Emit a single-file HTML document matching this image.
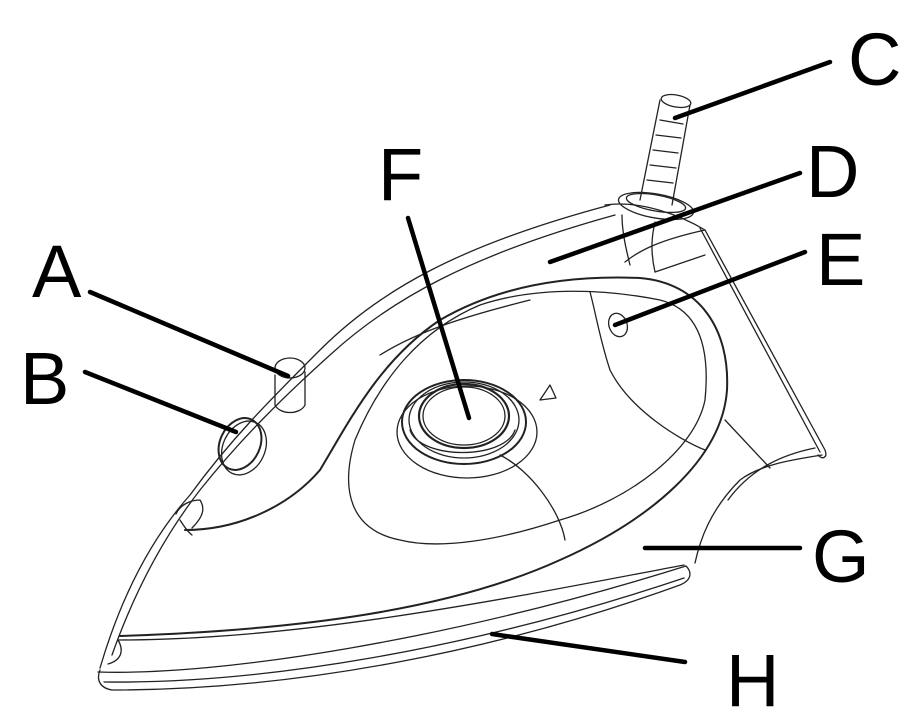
<!DOCTYPE html>
<html><head><style>
html,body{margin:0;padding:0;background:#fff;}
svg{display:block;}
text{font-family:"Liberation Sans",sans-serif;font-size:74px;fill:#000;}
</style></head><body>
<svg width="916" height="718" viewBox="0 0 916 718" xmlns="http://www.w3.org/2000/svg">
<g fill="none" stroke="#222" stroke-width="1.3" stroke-linecap="round" stroke-linejoin="round">
<path d="M100,670 C96,680 100,688 112,690 C300,690 500,650 680,585 C692,580 692,572 686,566"/>
<path d="M98,672 C220,676 450,640 686,566"/>
<path d="M104,682 C260,684 470,650 684,578"/>
<path d="M118,640 C124,650 122,660 108,664"/>
<path d="M118,640 C300,640 500,600 684,565"/>
<path d="M100,668 C120,600 150,540 190,495 C230,440 270,400 320,350 C380,290 460,245 610,205"/>
<path d="M112,655 C135,590 165,535 200,490 C240,440 280,400 330,355 C390,300 470,255 615,215"/>
<path d="M605,205 C640,200 680,215 705,230 L825,450 C828,458 822,460 818,455"/>
<path d="M700,228 L820,452"/>
<path d="M625,262 C640,250 660,240 705,230"/>
<path d="M630,265 C625,245 622,230 622,215"/>
<path d="M655,272 C650,250 652,235 655,222"/>
<path d="M655,272 L705,255"/>
<path d="M822,455 C790,460 760,465 740,480 C710,510 700,540 695,563"/>
<path d="M815,448 C780,455 750,470 728,500"/>
<path d="M725,420 L770,468"/>
<path stroke-width="2" d="M185,530 C240,530 290,505 320,470 C350,420 380,360 440,320 C500,285 570,275 640,278 C700,283 730,330 727,390 C722,460 650,520 560,560 C450,610 300,630 120,636"/>
<path d="M355,440 C380,380 420,330 480,305 C540,285 610,290 660,300 C700,310 710,350 705,400 C695,450 630,500 560,520 C500,540 440,550 400,540 C350,530 340,490 355,440"/>
<path d="M380,355 C420,330 470,315 530,300"/>
<path d="M590,292 C595,310 600,340 610,370 C630,410 680,440 705,450"/>
<path d="M500,455 C530,470 560,510 565,540"/>
<path d="M180,520 C185,528 188,532 192,535"/>
<path d="M176,514 C180,505 190,500 200,500 C205,508 204,516 192,528"/>
<path d="M275,375 L275,405 C280,415 300,415 305,405 L305,372"/>
<ellipse cx="290" cy="368" rx="15" ry="10"/>
<ellipse cx="240" cy="444" rx="20" ry="27" transform="rotate(25 240 444)" stroke-width="2"/>
<ellipse cx="244" cy="448" rx="21" ry="28" transform="rotate(25 244 448)"/>
<ellipse cx="467" cy="432" rx="70" ry="46"/>
<ellipse cx="464" cy="422" rx="62" ry="42" stroke-width="2"/>
<ellipse cx="464" cy="420" rx="55" ry="38"/>
<ellipse cx="464" cy="416" rx="45" ry="32" stroke-width="2.2"/>
<ellipse cx="464" cy="416" rx="41" ry="29"/>
<path d="M410,430 C420,460 505,460 515,430"/>
<path d="M540,400 L550,385 L556,398 Z"/>
<ellipse cx="618" cy="325" rx="9" ry="12" transform="rotate(-20 618 325)"/>
<path d="M640,200 L660,100 M672,205 L690,105"/>
<ellipse cx="676" cy="101" rx="15" ry="6" transform="rotate(10 676 101)"/>
<path d="M660,120 L683,124 M656,135 L681,138 M653,150 L678,153 M650,165 L676,168 M647,180 L673,183"/>
<ellipse cx="656" cy="206" rx="38" ry="12" transform="rotate(10 656 206)"/>
<ellipse cx="656" cy="203" rx="30" ry="8" transform="rotate(10 656 203)"/>
</g>
<g stroke="#000" stroke-width="4.5" stroke-linecap="round">
<line x1="90" y1="292" x2="288" y2="376"/>
<line x1="85" y1="372" x2="236" y2="432"/>
<line x1="830" y1="62" x2="675" y2="118"/>
<line x1="800" y1="173" x2="550" y2="262"/>
<line x1="805" y1="252" x2="615" y2="325"/>
<line x1="408" y1="218" x2="469" y2="418"/>
<line x1="800" y1="548" x2="645" y2="548"/>
<line x1="685" y1="662" x2="492" y2="634"/>
</g>
<text x="32" y="297">A</text>
<text x="20" y="404">B</text>
<text x="848" y="85">C</text>
<text x="806" y="197">D</text>
<text x="816" y="285">E</text>
<text x="378" y="200">F</text>
<text x="812" y="582">G</text>
<text x="726" y="706">H</text>
</svg>
</body></html>
